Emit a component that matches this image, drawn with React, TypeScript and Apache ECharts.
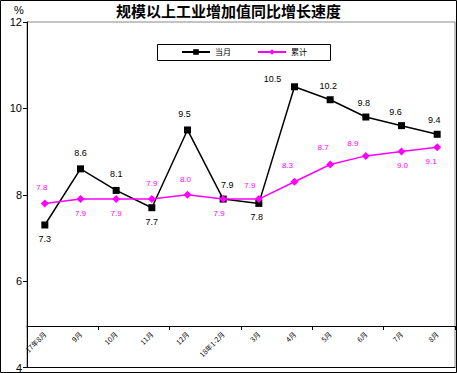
import React, { useEffect, useRef } from "react";
import * as echarts from "echarts";

const categories = ["17年8月", "9月", "10月", "11月", "12月", "18年1-2月", "3月", "4月", "5月", "6月", "7月", "8月"];
const monthly = [7.3, 8.6, 8.1, 7.7, 9.5, 7.9, 7.8, 10.5, 10.2, 9.8, 9.6, 9.4];
const cumulative = [7.8, 7.9, 7.9, 7.9, 8.0, 7.9, 7.9, 8.3, 8.7, 8.9, 9.0, 9.1];
const yTicks = [4, 6, 8, 10, 12];

// label placement (style only)
const monthlyLabelPos: [string, number, number][] = [
  ["bottom", 0, 0], ["top", 0, -2], ["top", 0, -2], ["bottom", 0, 0], ["top", -3, -2], ["top", 4, 0],
  ["bottom", -2, 0], ["top", -22, 6], ["top", -2, 0], ["top", -2, 0], ["top", -6, 0], ["top", -3, 0],
];
const cumLabelPos: [string, number, number][] = [
  ["top", -3, -2], ["bottom", 0, 0], ["bottom", 0, 0], ["top", 0, -2], ["top", -2, -1], ["bottom", -4, 0],
  ["top", -9, 0], ["top", -7, -2], ["top", -7, -3], ["top", -13, 2], ["bottom", 1, 0], ["bottom", -6, 0],
];

export default function App() {
  const ref = useRef<HTMLDivElement>(null);
  useEffect(() => {
    document.body.style.margin = "0";
    const chart = echarts.init(ref.current!, null, { renderer: "svg" });
    const font = "Liberation Sans, Arial, sans-serif";
    const cjk = "'Noto Sans CJK SC', sans-serif";
    chart.setOption({
      animation: false,
      backgroundColor: "#ffffff",
      title: {
        text: "规模以上工业增加值同比增长速度",
        left: "center",
        top: -2,
        textStyle: { fontFamily: cjk, fontSize: 15, fontWeight: "bold", color: "#000" },
      },
      legend: {
        left: 181,
        top: 48,
        itemWidth: 28,
        itemHeight: 7,
        itemGap: 26,
        padding: 0,
        z: 10,
        data: ["当月", "累计"],
        textStyle: { fontFamily: cjk, fontSize: 8, color: "#000" },
      },
      graphic: [
        { type: "rect", z: 1, shape: { x: 157.5, y: 44.5, width: 173, height: 16 }, style: { fill: "#fff", stroke: "#000", lineWidth: 1 } },
        { type: "text", x: 14, y: 4, style: { text: "%", fontFamily: font, fontSize: 11, fill: "#000" } },
        { type: "rect", z: 100, shape: { x: 0.5, y: 0.5, width: 456, height: 372 }, style: { fill: "none", stroke: "#000", lineWidth: 1 } },
      ],
      grid: [
        { left: 27, right: 2, top: 22, bottom: 4, show: true, borderColor: "#888", borderWidth: 1, backgroundColor: "transparent" },
        { left: 27, right: 2, top: 326, height: 1, show: false },
      ],
      xAxis: [
        {
          type: "category", gridIndex: 0, data: categories, boundaryGap: true,
          axisLine: { show: true, lineStyle: { color: "#000", width: 1 } },
          axisTick: { show: false }, axisLabel: { show: false }, splitLine: { show: false },
        },
        {
          type: "category", gridIndex: 1, data: categories, boundaryGap: true, position: "top",
          axisLine: { show: true, onZero: false, lineStyle: { color: "#000", width: 1 } },
          axisTick: { show: true, inside: true, length: 4, lineStyle: { color: "#000" } },
          axisLabel: { show: false },
          splitLine: { show: false },
        },
        {
          type: "category", gridIndex: 1, data: categories, boundaryGap: true, position: "bottom",
          axisLine: { show: false },
          axisTick: { show: false },
          axisLabel: { show: true, rotate: 45, fontSize: 7, fontFamily: cjk, color: "#000", margin: 6, interval: 0 },
          splitLine: { show: false },
        },
      ],
      yAxis: [
        {
          type: "value", gridIndex: 0, min: 4, max: 12, interval: 2,
          axisLine: { show: true, lineStyle: { color: "#000", width: 1 } },
          axisTick: { show: true, inside: false, length: 4, lineStyle: { color: "#000" } },
          axisLabel: { fontSize: 11, fontFamily: font, color: "#000", margin: 5, formatter: (v: number) => (yTicks.includes(v) ? String(v) : "") },
          splitLine: { show: false },
        },
        { type: "value", gridIndex: 1, min: 0, max: 1, show: false },
      ],
      series: [
        {
          name: "当月", type: "line", xAxisIndex: 0, yAxisIndex: 0,
          symbol: "rect", symbolSize: 7,
          itemStyle: { color: "#000" },
          lineStyle: { color: "#000", width: 1.5 },
          data: monthly.map((v, i) => ({
            value: v,
            label: { position: monthlyLabelPos[i][0], offset: [monthlyLabelPos[i][1], monthlyLabelPos[i][2]] },
          })),
          label: { show: true, fontSize: 9, fontFamily: font, color: "#000", distance: 6, formatter: (p: any) => p.value.toFixed(1) },
          z: 3,
        },
        {
          name: "累计", type: "line", xAxisIndex: 0, yAxisIndex: 0,
          symbol: "diamond", symbolSize: 8,
          itemStyle: { color: "#ff00ff" },
          lineStyle: { color: "#ff00ff", width: 1.5 },
          data: cumulative.map((v, i) => ({
            value: v,
            label: { position: cumLabelPos[i][0], offset: [cumLabelPos[i][1], cumLabelPos[i][2]] },
          })),
          label: { show: true, fontSize: 8, fontFamily: font, color: "#ff00ff", distance: 6, formatter: (p: any) => p.value.toFixed(1) },
          z: 4,
        },
      ],
    });
    return () => chart.dispose();
  }, []);
  return <div ref={ref} style={{ position: "absolute", left: 0, top: 0, width: 457, height: 373 }} />;
}
